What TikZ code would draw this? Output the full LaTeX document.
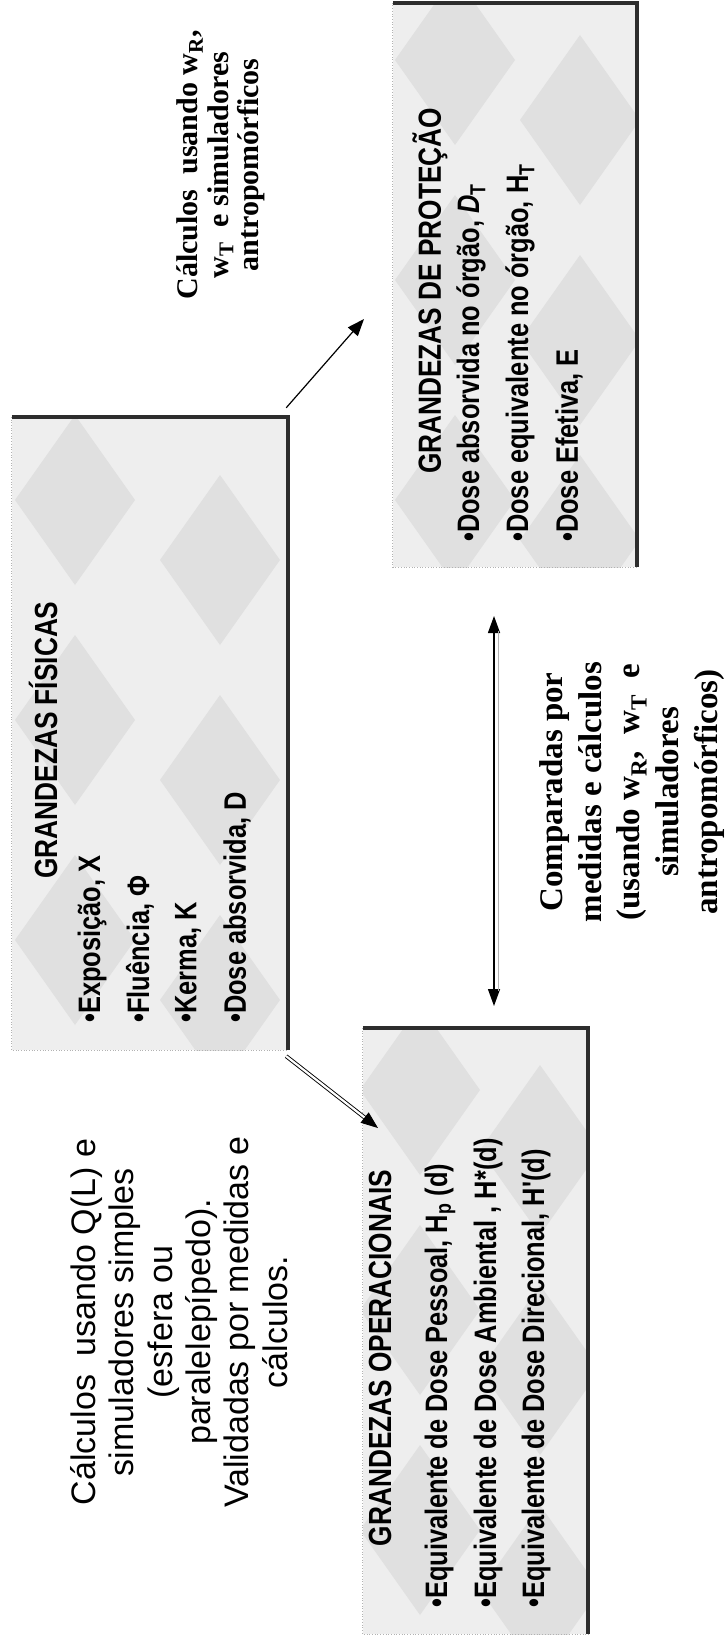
\documentclass[tikz,border=0pt]{standalone}
\usepackage{fontspec}
\setmainfont{Liberation Serif}
\newfontfamily\arialf{Liberation Sans}
\newfontfamily\narrowf[FakeStretch=0.82]{Liberation Sans}
\usetikzlibrary{arrows.meta,calc}

\tikzset{
  boxbg/.style={fill=gray!13, draw=none, inner sep=0pt},
  patfill/.style={fill=gray!24},
  thickedge/.style={line width=3.5pt, draw=gray!35!black},
  thinedge/.style={dotted, draw=gray!60, line width=0.7pt},
  boxtitle/.style={rotate=90, font=\narrowf\bfseries\fontsize{32}{36}\selectfont, inner sep=0pt},
  bul/.style={rotate=90, anchor=west, font=\narrowf\bfseries\fontsize{31}{35}\selectfont, inner sep=0pt},
  sanslabel/.style={rotate=90, align=center, font=\arialf\fontsize{34}{38.4}\selectfont, inner sep=0pt},
  seriflabel/.style={rotate=90, align=center, font=\bfseries\fontsize{33}{38.7}\selectfont, inner sep=0pt},
  toplabel/.style={rotate=90, align=center, font=\bfseries\fontsize{30}{30.5}\selectfont, inner sep=0pt},
  bigtip/.style={-{Triangle[length=17pt,width=13pt]}},
}

\begin{document}
\begin{tikzpicture}[x=1pt,y=-1pt]
\useasboundingbox (0,0) rectangle (725,1640);
\fill[white] (0,0) rectangle (725,1640);

% ---------- boxes ----------
\node[boxbg, minimum width=276pt, minimum height=633pt] (phys) at (150,733.5) {};
\node[boxbg, minimum width=244pt, minimum height=564pt] (prot) at (515,285) {};
\node[boxbg, minimum width=225pt, minimum height=606pt] (oper) at (475.5,1331) {};

% texture
\begin{scope}
  \clip (phys.south west) rectangle (phys.north east);
  \foreach \cx/\cy in {75/500,220/560,75/720,220/780,75/940,220/1000}
    \fill[patfill] (\cx-60,\cy) -- (\cx,\cy-85) -- (\cx+60,\cy) -- (\cx,\cy+85) -- cycle;
\end{scope}
\begin{scope}
  \clip (prot.south west) rectangle (prot.north east);
  \foreach \cx/\cy in {455/60,580/120,455/280,580/340,455/500,580/540}
    \fill[patfill] (\cx-60,\cy) -- (\cx,\cy-85) -- (\cx+60,\cy) -- (\cx,\cy+85) -- cycle;
\end{scope}
\begin{scope}
  \clip (oper.south west) rectangle (oper.north east);
  \foreach \cx/\cy in {420/1090,540/1150,420/1310,540/1370,420/1530,540/1590}
    \fill[patfill] (\cx-60,\cy) -- (\cx,\cy-85) -- (\cx+60,\cy) -- (\cx,\cy+85) -- cycle;
\end{scope}

\foreach \b in {phys,prot,oper}{
  \draw[thinedge] (\b.north west) -- (\b.south west) -- (\b.south east);
  \draw[thickedge] (\b.north west) -- (\b.north east) -- (\b.south east);
}

% ---------- physical quantities ----------
\node[boxtitle] (physT) at (43,740) {GRANDEZAS FÍSICAS};
\node[bul] (phys1) at (92,1023) {•Exposição, X};
\node[bul] (phys2) at (140,1023) {•Fluência, Φ};
\node[bul] (phys3) at (188,1023) {•Kerma, K};
\node[bul] (phys4) at (237,1023) {•Dose absorvida, D};

% ---------- protection quantities ----------
\node[boxtitle] (protT) at (430,291) {GRANDEZAS DE PROTEÇÃO};
\node[bul] (prot1) at (471,542) {•Dose absorvida no órgão, {\itshape D}\textsubscript{T}};
\node[bul] (prot2) at (520,542) {•Dose equivalente no órgão, H\textsubscript{T}};
\node[bul] (prot3) at (569,542) {•Dose Efetiva, E};

% ---------- operational quantities ----------
\node[boxtitle] (operT) at (380,1358) {GRANDEZAS OPERACIONAIS};
\node[bul] (oper1) at (440,1608) {•Equivalente de Dose Pessoal, H\textsubscript{p} (d)};
\node[bul] (oper2) at (488,1608) {•Equivalente de Dose Ambiental , H*(d)};
\node[bul] (oper3) at (536,1608) {•Equivalente de Dose Direcional, H'(d)};

% ---------- free labels ----------
\node[toplabel] (lblTop) at (221,165) {Cálculos\ \ usando w\textsubscript{R},\\ w\textsubscript{T}\ \ e simuladores\\ antropomórficos};
\node[sanslabel] (lblLeft) at (179,1322) {Cálculos\ \ usando Q(L) e\\ simuladores simples\\ (esfera ou\\ paralelepípedo).\\ Validadas por medidas e\\ cálculos.};
\node[seriflabel] (lblMid) at (632,792) {Comparadas por\\ medidas e cálculos\\ (usando w\textsubscript{R}, \ w\textsubscript{T}\ \ e\\ simuladores\\ antropomórficos)};

% ---------- connectors ----------
\coordinate (aS) at ($(phys.north east)+(-2,-9)$);
\coordinate (aE) at (364,319);
\draw[line width=1.2pt, bigtip] (aS) -- (aE);

\coordinate (bS) at ($(phys.south east)+(-2,6)$);
\coordinate (bE) at (378,1128);
\draw[draw=black, double=white, double distance=2.2pt, line width=0.9pt, bigtip] (bS) -- (bE);

\coordinate (cT) at (494,616);
\coordinate (cB) at (494,1006);
\draw[line width=1.3pt, {Triangle[length=17pt,width=12pt]}-{Triangle[length=17pt,width=12pt]}] (cT) -- (cB);
\draw[gray!60, line width=1pt, shorten <=15pt, shorten >=15pt, transform canvas={xshift=4pt}] (cT) -- (cB);
\end{tikzpicture}
\end{document}
